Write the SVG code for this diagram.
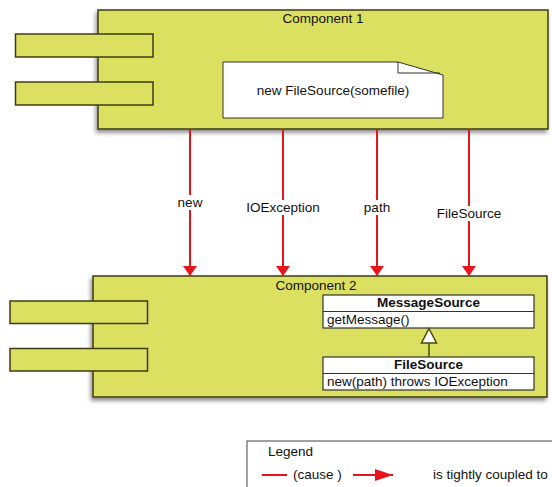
<svg xmlns="http://www.w3.org/2000/svg" width="552" height="487" viewBox="0 0 552 487">
  <defs>
    <filter id="shadow" x="-10%" y="-10%" width="120%" height="130%">
      <feDropShadow dx="-1.5" dy="3" stdDeviation="2" flood-color="#000" flood-opacity="0.45"/>
    </filter>
    <marker id="arrow" viewBox="0 0 10 14" refX="10" refY="7" markerWidth="10" markerHeight="14" markerUnits="userSpaceOnUse" orient="auto">
      <path d="M0,0 L10,7 L0,14 Z" fill="#e8141b"/>
    </marker>
    <marker id="arrowLegend" viewBox="0 0 10 12" refX="10" refY="6" markerWidth="18" markerHeight="12" markerUnits="userSpaceOnUse" orient="auto" preserveAspectRatio="none">
      <path d="M0,0 L10,6 L0,12 Z" fill="#e8141b"/>
    </marker>
  </defs>
  <style>
    text { font-family: "Liberation Sans", Arial, sans-serif; font-size: 13.5px; fill: #111; }
    .comp { fill: #dbe060; stroke: #3c3c14; stroke-width: 1.5; }
    .port { fill: #dbe060; stroke: #3c3c14; stroke-width: 1.5; }
    .note { fill: #ffffff; stroke: #333; stroke-width: 1; }
    .cls { fill: #ffffff; stroke: #333; stroke-width: 1.2; }
    .bold { font-weight: bold; }
    .dep { stroke: #e8141b; stroke-width: 2; fill: none; }
    .lbl-bg { fill: #ffffff; }
  </style>
  <rect width="552" height="487" fill="#ffffff"/>

  <!-- Component 1 -->
  <g id="component1">
    <rect class="comp" x="98" y="10" width="450" height="119" filter="url(#shadow)"/>
    <text x="323" y="23" text-anchor="middle">Component 1</text>
    <rect class="port" x="15.5" y="34" width="137.5" height="23"/>
    <rect class="port" x="15.5" y="82" width="137.5" height="23"/>
  </g>

  <!-- Note inside Component 1 -->
  <g id="note">
    <path class="note" d="M223,62 L398,62 L443,75 L443,118 L223,118 Z"/>
    <path d="M398,62 L398,73 L440,73" fill="none" stroke="#333" stroke-width="1"/>
    <text x="333" y="95" text-anchor="middle">new FileSource(somefile)</text>
  </g>

  <!-- Component 2 -->
  <g id="component2">
    <rect class="comp" x="93" y="276" width="454" height="121" filter="url(#shadow)"/>
    <text x="316" y="290" text-anchor="middle">Component 2</text>
    <rect class="port" x="10" y="301" width="137.5" height="22.5"/>
    <rect class="port" x="10" y="348.5" width="137.5" height="22.5"/>
  </g>

  <!-- Class MessageSource -->
  <g id="messageSource">
    <rect class="cls" x="323" y="295" width="211" height="33"/>
    <line x1="323" y1="311.5" x2="534" y2="311.5" stroke="#333" stroke-width="1.2"/>
    <text class="bold" x="428.5" y="307" text-anchor="middle">MessageSource</text>
    <text x="327" y="324">getMessage()</text>
  </g>

  <!-- Class FileSource -->
  <g id="fileSource">
    <rect class="cls" x="323" y="357" width="211" height="33"/>
    <line x1="323" y1="373.5" x2="534" y2="373.5" stroke="#333" stroke-width="1.2"/>
    <text class="bold" x="428.5" y="369" text-anchor="middle">FileSource</text>
    <text x="327" y="386">new(path) throws IOException</text>
  </g>

  <!-- Connectors -->
  <g id="connectors">
    <line class="dep" x1="190" y1="130" x2="190" y2="276" marker-end="url(#arrow)"/>
    <line class="dep" x1="283" y1="130" x2="283" y2="276" marker-end="url(#arrow)"/>
    <line class="dep" x1="377" y1="130" x2="377" y2="276" marker-end="url(#arrow)"/>
    <line class="dep" x1="469" y1="130" x2="469" y2="276" marker-end="url(#arrow)"/>

    <rect class="lbl-bg" x="174" y="195" width="32" height="15"/>
    <text x="190" y="207" text-anchor="middle">new</text>
    <rect class="lbl-bg" x="243" y="200" width="80" height="15"/>
    <text x="283" y="212" text-anchor="middle">IOException</text>
    <rect class="lbl-bg" x="361" y="200" width="32" height="15"/>
    <text x="377" y="212" text-anchor="middle">path</text>
    <rect class="lbl-bg" x="434" y="206" width="70" height="15"/>
    <text x="469" y="218" text-anchor="middle">FileSource</text>

    <!-- generalization: FileSource to MessageSource -->
    <line x1="429" y1="357" x2="429" y2="343" stroke="#4a4a08" stroke-width="1.5"/>
    <path d="M429,328.5 L436.5,343 L421.5,343 Z" fill="#ffffff" stroke="#4a4a08" stroke-width="1.5"/>
  </g>

  <!-- Legend -->
  <g id="legend">
    <rect x="247" y="441" width="310" height="60" fill="#ffffff" stroke="#444" stroke-width="1"/>
    <text x="268" y="456">Legend</text>
    <line class="dep" x1="262" y1="475" x2="287" y2="475"/>
    <text x="293" y="479">(cause )</text>
    <line class="dep" x1="353" y1="475" x2="393" y2="475" marker-end="url(#arrowLegend)"/>
    <text x="433" y="479">is tightly coupled to</text>
  </g>
</svg>
